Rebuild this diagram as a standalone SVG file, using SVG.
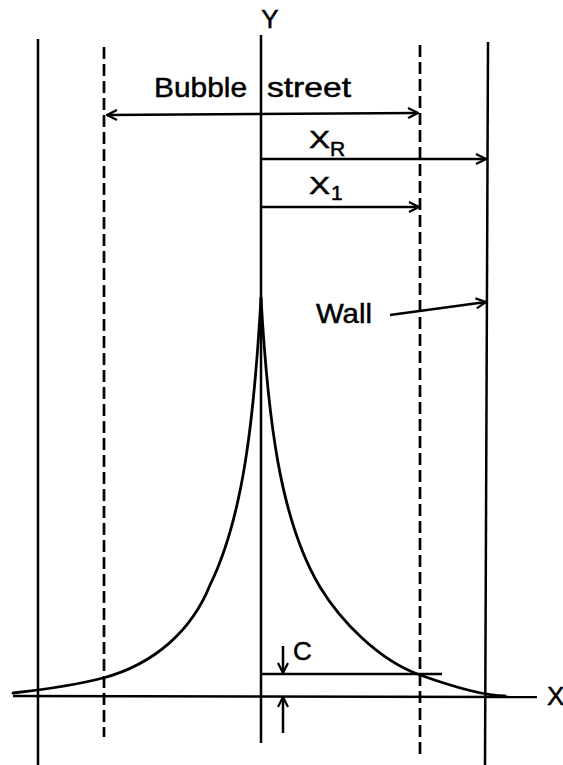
<svg xmlns="http://www.w3.org/2000/svg" width="563" height="765" viewBox="0 0 563 765">
<style>
.ln{stroke:#000;stroke-width:2.5;fill:none;stroke-linecap:butt}
.dash{stroke:#000;stroke-width:2.7;fill:none;stroke-dasharray:12 5}
.crv{stroke:#000;stroke-width:2.8;fill:none;stroke-linejoin:round;stroke-linecap:round}
.t{font-family:"Liberation Sans",Arial,sans-serif;fill:#000;stroke:#000;stroke-width:0.5}
</style>
<defs>
<marker id="ah" viewBox="0 0 12 12" refX="11" refY="6" markerWidth="12" markerHeight="12" markerUnits="userSpaceOnUse" orient="auto-start-reverse">
<path d="M1,1 L11,6 L1,11" fill="none" stroke="#000" stroke-width="2.2"/>
</marker>
</defs>
<rect width="563" height="765" fill="#fff"/>
<g id="walls">
<line id="left-wall" class="ln" x1="38" y1="39" x2="38" y2="765"/>
<line id="right-wall" class="ln" x1="488" y1="42" x2="485" y2="765"/>
</g>
<g id="bubble-street-bounds">
<line id="left-dashed" class="dash" x1="104" y1="47" x2="104" y2="737"/>
<line id="right-dashed" class="dash" x1="420" y1="45" x2="420" y2="755"/>
</g>
<g id="axes">
<line id="y-axis" class="ln" x1="261" y1="35" x2="261" y2="743"/>
<line id="x-axis" class="ln" x1="13" y1="696" x2="537" y2="697"/>
</g>
<g id="profile">
<path class="crv" d="M261,298 C268,420 280,520 320,587 C340,620 378,660 420,675 C458,688.5 485,696 505,696"/>
<path class="crv" d="M261,298 C254,420 243,518 210,585 C192,630 155,664 103,678 C72,686 40,690 13,693"/>
</g>
<g id="connectors">
<line class="ln" x1="107" y1="115" x2="418" y2="113" marker-start="url(#ah)" marker-end="url(#ah)"/>
<line class="ln" x1="261" y1="159" x2="486" y2="159" marker-end="url(#ah)"/>
<line class="ln" x1="261" y1="207" x2="419" y2="207" marker-end="url(#ah)"/>
<line class="ln" x1="390" y1="315" x2="486" y2="302" marker-end="url(#ah)"/>
<line class="ln" x1="261" y1="674" x2="442" y2="674"/>
<line class="ln" x1="283" y1="646" x2="283" y2="673" marker-end="url(#ah)"/>
<line class="ln" x1="283" y1="733" x2="283" y2="697" marker-end="url(#ah)"/>
</g>
<g id="labels">
<text id="lbl-y" class="t" x="270" y="28" font-size="26" text-anchor="middle">Y</text>
<text id="lbl-bubble" class="t" font-size="28"><tspan x="154" y="97" textLength="93" lengthAdjust="spacingAndGlyphs">Bubble</tspan> <tspan x="267" y="97" textLength="84" lengthAdjust="spacingAndGlyphs">street</tspan></text>
<text id="lbl-xr" class="t" font-size="24"><tspan x="309" y="148" textLength="21" lengthAdjust="spacingAndGlyphs">X</tspan><tspan x="330" y="156" font-size="21">R</tspan></text>
<text id="lbl-x1" class="t" font-size="24"><tspan x="309" y="194" textLength="21" lengthAdjust="spacingAndGlyphs">X</tspan><tspan x="331" y="200" font-size="21">1</tspan></text>
<text id="lbl-wall" class="t" x="316" y="323" font-size="28" textLength="56" lengthAdjust="spacingAndGlyphs">Wall</text>
<text id="lbl-c" class="t" x="293" y="660" font-size="26">C</text>
<text id="lbl-x" class="t" x="547" y="705" font-size="26">X</text>
</g>
</svg>
